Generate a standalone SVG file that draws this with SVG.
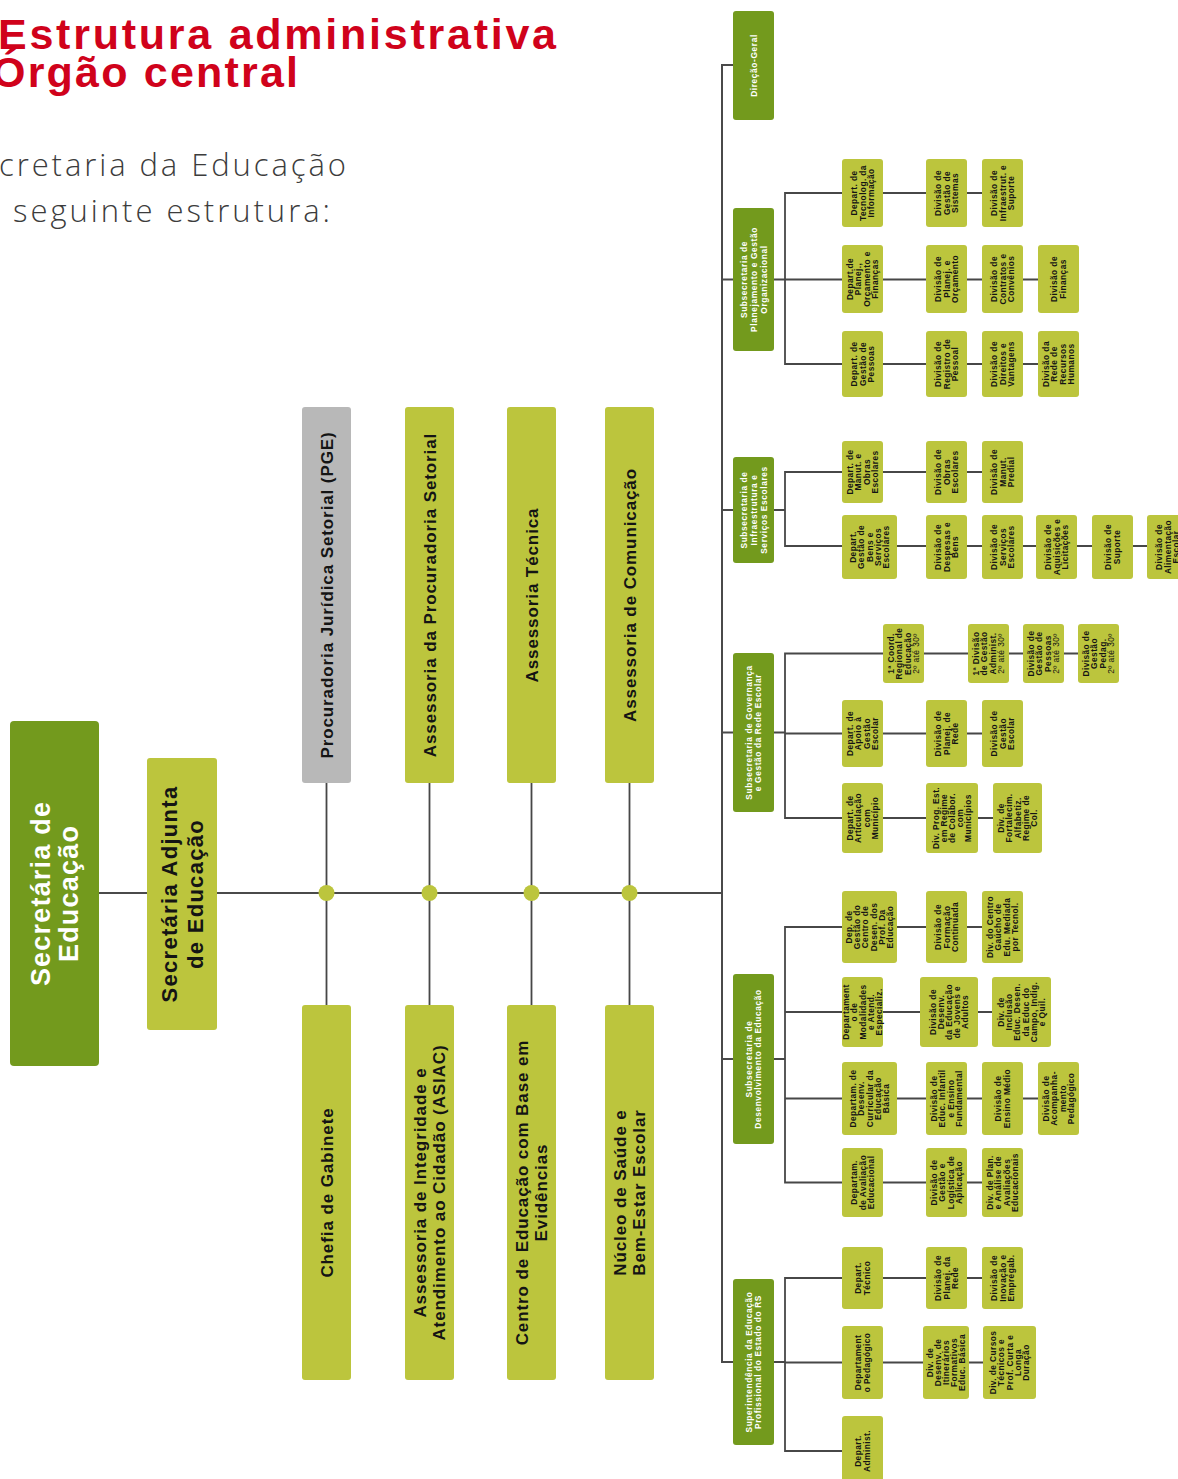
<svg xmlns="http://www.w3.org/2000/svg" width="1178" height="1479" viewBox="0 0 1178 1479">
<style>
.dk{fill:#739a1d}
.lt{fill:#bcc53d}
.gy{fill:#b8b8b8}
.cn{stroke:#474747;stroke-width:1.8;fill:none}
.mn{stroke:#4a4a4a;stroke-width:2;fill:none}
.dot{fill:#bcc53d}
.sm{font-family:"Liberation Sans",Arial,sans-serif;font-weight:700;font-size:8.4px;letter-spacing:0.4px;fill:#141414;text-anchor:middle}
.wt{font-family:"Liberation Sans",Arial,sans-serif;font-weight:700;font-size:8.4px;letter-spacing:0.6px;fill:#ffffff;text-anchor:middle}
.bg{font-family:"Liberation Sans",Arial,sans-serif;font-weight:700;font-size:17px;letter-spacing:0.9px;fill:#141414;text-anchor:middle}
.rg{font-weight:400}
.ttl{font-family:"Liberation Sans",Arial,sans-serif;font-weight:700;font-size:43px;fill:#d0021b}
.sub{font-family:"Open Sans","Liberation Sans",sans-serif;font-weight:300;font-size:31px;fill:#3c3c3c}
</style>
<rect width="1178" height="1479" fill="#ffffff"/>

<g id="title">
<text class="ttl" x="-2" y="49" textLength="558" lengthAdjust="spacing">Estrutura administrativa</text>
<text class="ttl" x="-8" y="87" textLength="306" lengthAdjust="spacing">Órgão central</text>
<text class="sub" x="-1" y="176" textLength="347" lengthAdjust="spacing">cretaria da Educação</text>
<text class="sub" x="13" y="222" textLength="317" lengthAdjust="spacing">seguinte estrutura:</text>
</g>

<g id="connectors">
<path class="mn" d="M99 893H722"/>
<path class="cn" d="M326.5 783V1005M429.5 783V1005M531.5 783V1005M629.5 783V1005"/>
<circle class="dot" cx="326.5" cy="893" r="8"/>
<circle class="dot" cx="429.5" cy="893" r="8"/>
<circle class="dot" cx="531.5" cy="893" r="8"/>
<circle class="dot" cx="629.5" cy="893" r="8"/>
<path class="mn" d="M733 65H722V1362H733M722 279.5H733M722 510H733M722 732.5H733M722 1059H733"/>
<path class="cn" d="M774 279.5H785M842 193H785V364H842M785 279.5H842"/>
<path class="cn" d="M774 510H785M842 472H785V546H842"/>
<path class="cn" d="M774 732.5H785M883 653.5H785V818H842M785 733.5H842"/>
<path class="cn" d="M774 1059H785M842 927H785V1182.5H842M785 1012H842M785 1098.5H842"/>
<path class="cn" d="M774 1362H785M842 1278H785V1451H842M785 1362.5H842"/>
<path class="cn" d="M883 193H926M967 193H982M883 279.5H926M967 279.5H982M1023 279.5H1038M883 364H926M967 364H982M1023 364H1038"/>
<path class="cn" d="M883 472H926M967 472H982M897 546H926M967 546H982M1023 546H1036M1077 546H1092M1133 546H1147"/>
<path class="cn" d="M924 653.5H968M1009 653.5H1023M1064 653.5H1078M883 733.5H926M967 733.5H982M883 818H926M978 818H993"/>
<path class="cn" d="M897 927H926M967 927H982M883 1012H920M978 1012H992M897 1098.5H926M967 1098.5H982M1023 1098.5H1038M883 1182.5H926M967 1182.5H982"/>
<path class="cn" d="M883 1278H926M967 1278H982M883 1362.5H923M969 1362.5H983"/>
</g>

<g id="sec-educacao">
<rect class="dk" x="10" y="721" width="89" height="345" rx="4"/>
<text transform="translate(54.5 893.5) rotate(-90)" style="font-family:'Liberation Sans',Arial,sans-serif;font-weight:700;font-size:27px;letter-spacing:1.2px;fill:#fff;text-anchor:middle"><tspan x="0" y="-4.5">Secretária de</tspan><tspan x="0" y="23.5">Educação</tspan></text>
</g>
<g id="sec-adjunta">
<rect class="lt" x="147" y="758" width="70" height="272" rx="3"/>
<text transform="translate(182 894) rotate(-90)" style="font-family:'Liberation Sans',Arial,sans-serif;font-weight:700;font-size:22px;letter-spacing:1.3px;fill:#141414;text-anchor:middle"><tspan x="0" y="-5">Secretária Adjunta</tspan><tspan x="0" y="21">de Educação</tspan></text>
</g>

<g id="pge"><rect class="gy" x="302" y="407" width="49" height="376" rx="3"/><text class="bg" transform="translate(326.5 595) rotate(-90)"><tspan x="0" y="6">Procuradoria Jurídica Setorial (PGE)</tspan></text></g>
<g id="assess-proc"><rect class="lt" x="405" y="407" width="49" height="376" rx="3"/><text class="bg" transform="translate(429.5 595) rotate(-90)"><tspan x="0" y="6">Assessoria da Procuradoria Setorial</tspan></text></g>
<g id="assess-tec"><rect class="lt" x="507" y="407" width="49" height="376" rx="3"/><text class="bg" transform="translate(531.5 595) rotate(-90)"><tspan x="0" y="6">Assessoria Técnica</tspan></text></g>
<g id="assess-com"><rect class="lt" x="605" y="407" width="49" height="376" rx="3"/><text class="bg" transform="translate(629.5 595) rotate(-90)"><tspan x="0" y="6">Assessoria de Comunicação</tspan></text></g>

<g id="chefia"><rect class="lt" x="302" y="1005" width="49" height="375" rx="3"/><text class="bg" transform="translate(326.5 1192.5) rotate(-90)"><tspan x="0" y="6">Chefia de Gabinete</tspan></text></g>
<g id="asiac"><rect class="lt" x="405" y="1005" width="49" height="375" rx="3"/><text class="bg" transform="translate(429.5 1192.5) rotate(-90)"><tspan x="0" y="-3.5">Assessoria de Integridade e</tspan><tspan x="0" y="15.5">Atendimento ao Cidadão (ASIAC)</tspan></text></g>
<g id="centro-evid"><rect class="lt" x="507" y="1005" width="49" height="375" rx="3"/><text class="bg" transform="translate(531.5 1192.5) rotate(-90)"><tspan x="0" y="-3.5">Centro de Educação com Base em</tspan><tspan x="0" y="15.5">Evidências</tspan></text></g>
<g id="nucleo-saude"><rect class="lt" x="605" y="1005" width="49" height="375" rx="3"/><text class="bg" transform="translate(629.5 1192.5) rotate(-90)"><tspan x="0" y="-3.5">Núcleo de Saúde e</tspan><tspan x="0" y="15.5">Bem-Estar Escolar</tspan></text></g>

<g id="direcao-geral"><rect class="dk" x="733" y="11" width="41" height="109" rx="3"/><text class="wt" transform="translate(753.5 65.5) rotate(-90)"><tspan x="0" y="3.5">Direção-Geral</tspan></text></g>
<g id="sub-planejamento"><rect class="dk" x="733" y="208" width="41" height="143" rx="3"/><text class="wt" transform="translate(753.5 279.5) rotate(-90)"><tspan x="0" y="-6.5">Subsecretaria de</tspan><tspan x="0" y="3.5">Planejamento e Gestão</tspan><tspan x="0" y="13.5">Organizacional</tspan></text></g>
<g id="sub-infra"><rect class="dk" x="733" y="457" width="41" height="106" rx="3"/><text class="wt" transform="translate(753.5 510) rotate(-90)"><tspan x="0" y="-6.5">Subsecretaria de</tspan><tspan x="0" y="3.5">Infraestrutura e</tspan><tspan x="0" y="13.5">Serviços Escolares</tspan></text></g>
<g id="sub-governanca"><rect class="dk" x="733" y="653" width="41" height="159" rx="3"/><text class="wt" transform="translate(753.5 732.5) rotate(-90)"><tspan x="0" y="-1.5">Subsecretaria de Governança</tspan><tspan x="0" y="7.5">e Gestão da Rede Escolar</tspan></text></g>
<g id="sub-desenv"><rect class="dk" x="733" y="974" width="41" height="170" rx="3"/><text class="wt" transform="translate(753.5 1059) rotate(-90)"><tspan x="0" y="-1.5">Subsecretaria de</tspan><tspan x="0" y="7.5">Desenvolvimento da Educação</tspan></text></g>
<g id="superintendencia"><rect class="dk" x="733" y="1279" width="41" height="166" rx="3"/><text class="wt" transform="translate(753.5 1362) rotate(-90)"><tspan x="0" y="-1.5">Superintendência da Educação</tspan><tspan x="0" y="7.5">Profissional do Estado do RS</tspan></text></g>

<g id="pl-d1"><rect class="lt" x="842" y="159" width="41" height="68" rx="3"/><text class="sm" transform="translate(862.5 193) rotate(-90)"><tspan x="0" y="-5.2">Depart. de</tspan><tspan x="0" y="3">Tecnolog. da</tspan><tspan x="0" y="11.2">Informação</tspan></text></g>
<g id="pl-d1a"><rect class="lt" x="926" y="159" width="41" height="68" rx="3"/><text class="sm" transform="translate(946.5 193) rotate(-90)"><tspan x="0" y="-5.2">Divisão de</tspan><tspan x="0" y="3">Gestão de</tspan><tspan x="0" y="11.2">Sistemas</tspan></text></g>
<g id="pl-d1b"><rect class="lt" x="982" y="159" width="41" height="68" rx="3"/><text class="sm" transform="translate(1002.5 193) rotate(-90)"><tspan x="0" y="-5.2">Divisão de</tspan><tspan x="0" y="3">Infraestrut. e</tspan><tspan x="0" y="11.2">Suporte</tspan></text></g>
<g id="pl-d2"><rect class="lt" x="842" y="245" width="41" height="68" rx="3"/><text class="sm" transform="translate(862.5 279) rotate(-90)"><tspan x="0" y="-9.3">Depart.de</tspan><tspan x="0" y="-1.1">Planej.,</tspan><tspan x="0" y="7.1">Orçamento e</tspan><tspan x="0" y="15.3">Finanças</tspan></text></g>
<g id="pl-d2a"><rect class="lt" x="926" y="245" width="41" height="68" rx="3"/><text class="sm" transform="translate(946.5 279) rotate(-90)"><tspan x="0" y="-5.2">Divisão de</tspan><tspan x="0" y="3">Planej. e</tspan><tspan x="0" y="11.2">Orçamento</tspan></text></g>
<g id="pl-d2b"><rect class="lt" x="982" y="245" width="41" height="68" rx="3"/><text class="sm" transform="translate(1002.5 279) rotate(-90)"><tspan x="0" y="-5.2">Divisão de</tspan><tspan x="0" y="3">Contratos e</tspan><tspan x="0" y="11.2">Convênios</tspan></text></g>
<g id="pl-d2c"><rect class="lt" x="1038" y="245" width="41" height="68" rx="3"/><text class="sm" transform="translate(1058.5 279) rotate(-90)"><tspan x="0" y="-1.1">Divisão de</tspan><tspan x="0" y="7.1">Finanças</tspan></text></g>
<g id="pl-d3"><rect class="lt" x="842" y="331" width="41" height="66" rx="3"/><text class="sm" transform="translate(862.5 364) rotate(-90)"><tspan x="0" y="-5.2">Depart. de</tspan><tspan x="0" y="3">Gestão de</tspan><tspan x="0" y="11.2">Pessoas</tspan></text></g>
<g id="pl-d3a"><rect class="lt" x="926" y="331" width="41" height="66" rx="3"/><text class="sm" transform="translate(946.5 364) rotate(-90)"><tspan x="0" y="-5.2">Divisão de</tspan><tspan x="0" y="3">Registro de</tspan><tspan x="0" y="11.2">Pessoal</tspan></text></g>
<g id="pl-d3b"><rect class="lt" x="982" y="331" width="41" height="66" rx="3"/><text class="sm" transform="translate(1002.5 364) rotate(-90)"><tspan x="0" y="-5.2">Divisão de</tspan><tspan x="0" y="3">Direitos e</tspan><tspan x="0" y="11.2">Vantagens</tspan></text></g>
<g id="pl-d3c"><rect class="lt" x="1038" y="331" width="41" height="66" rx="3"/><text class="sm" transform="translate(1058.5 364) rotate(-90)"><tspan x="0" y="-9.3">Divisão da</tspan><tspan x="0" y="-1.1">Rede de</tspan><tspan x="0" y="7.1">Recursos</tspan><tspan x="0" y="15.3">Humanos</tspan></text></g>

<g id="in-d1"><rect class="lt" x="842" y="441" width="41" height="62" rx="3"/><text class="sm" transform="translate(862.5 472) rotate(-90)"><tspan x="0" y="-9.3">Depart. de</tspan><tspan x="0" y="-1.1">Manut. e</tspan><tspan x="0" y="7.1">Obras</tspan><tspan x="0" y="15.3">Escolares</tspan></text></g>
<g id="in-d1a"><rect class="lt" x="926" y="441" width="41" height="62" rx="3"/><text class="sm" transform="translate(946.5 472) rotate(-90)"><tspan x="0" y="-5.2">Divisão de</tspan><tspan x="0" y="3">Obras</tspan><tspan x="0" y="11.2">Escolares</tspan></text></g>
<g id="in-d1b"><rect class="lt" x="982" y="441" width="41" height="62" rx="3"/><text class="sm" transform="translate(1002.5 472) rotate(-90)"><tspan x="0" y="-5.2">Divisão de</tspan><tspan x="0" y="3">Manut.</tspan><tspan x="0" y="11.2">Predial</tspan></text></g>
<g id="in-d2"><rect class="lt" x="842" y="515" width="55" height="64" rx="3"/><text class="sm" transform="translate(869.5 547) rotate(-90)"><tspan x="0" y="-13.4">Depart.</tspan><tspan x="0" y="-5.2">Gestão de</tspan><tspan x="0" y="3">Bens e</tspan><tspan x="0" y="11.2">Serviços</tspan><tspan x="0" y="19.4">Escolares</tspan></text></g>
<g id="in-d2a"><rect class="lt" x="926" y="515" width="41" height="64" rx="3"/><text class="sm" transform="translate(946.5 547) rotate(-90)"><tspan x="0" y="-5.2">Divisão de</tspan><tspan x="0" y="3">Despesas e</tspan><tspan x="0" y="11.2">Bens</tspan></text></g>
<g id="in-d2b"><rect class="lt" x="982" y="515" width="41" height="64" rx="3"/><text class="sm" transform="translate(1002.5 547) rotate(-90)"><tspan x="0" y="-5.2">Divisão de</tspan><tspan x="0" y="3">Serviços</tspan><tspan x="0" y="11.2">Escolares</tspan></text></g>
<g id="in-d2c"><rect class="lt" x="1036" y="515" width="41" height="64" rx="3"/><text class="sm" transform="translate(1056.5 547) rotate(-90)"><tspan x="0" y="-5.2">Divisão de</tspan><tspan x="0" y="3">Aquisições e</tspan><tspan x="0" y="11.2">Licitações</tspan></text></g>
<g id="in-d2d"><rect class="lt" x="1092" y="515" width="41" height="64" rx="3"/><text class="sm" transform="translate(1112.5 547) rotate(-90)"><tspan x="0" y="-1.1">Divisão de</tspan><tspan x="0" y="7.1">Suporte</tspan></text></g>
<g id="in-d2e"><rect class="lt" x="1147" y="515" width="41" height="64" rx="3"/><text class="sm" transform="translate(1167.5 547) rotate(-90)"><tspan x="0" y="-5.2">Divisão de</tspan><tspan x="0" y="3">Alimentação</tspan><tspan x="0" y="11.2">Escolar</tspan></text></g>

<g id="gv-c1"><rect class="lt" x="883" y="624" width="41" height="59" rx="3"/><text class="sm" transform="translate(903.5 653.5) rotate(-90)"><tspan x="0" y="-9.3">1ª Coord.</tspan><tspan x="0" y="-1.1">Regional de</tspan><tspan x="0" y="7.1">Educação</tspan><tspan x="0" y="15.3" class="rg">2º até 30º</tspan></text></g>
<g id="gv-c1a"><rect class="lt" x="968" y="624" width="41" height="59" rx="3"/><text class="sm" transform="translate(988.5 653.5) rotate(-90)"><tspan x="0" y="-9.3">1ª Divisão</tspan><tspan x="0" y="-1.1">de Gestão</tspan><tspan x="0" y="7.1">Administ.</tspan><tspan x="0" y="15.3" class="rg">2º até 30º</tspan></text></g>
<g id="gv-c1b"><rect class="lt" x="1023" y="624" width="41" height="59" rx="3"/><text class="sm" transform="translate(1043.5 653.5) rotate(-90)"><tspan x="0" y="-9.3">Divisão de</tspan><tspan x="0" y="-1.1">Gestão de</tspan><tspan x="0" y="7.1">Pessoas</tspan><tspan x="0" y="15.3" class="rg">2º até 30º</tspan></text></g>
<g id="gv-c1c"><rect class="lt" x="1078" y="624" width="41" height="59" rx="3"/><text class="sm" transform="translate(1098.5 653.5) rotate(-90)"><tspan x="0" y="-9.3">Divisão de</tspan><tspan x="0" y="-1.1">Gestão</tspan><tspan x="0" y="7.1">Pedag.</tspan><tspan x="0" y="15.3" class="rg">2º até 30º</tspan></text></g>
<g id="gv-d2"><rect class="lt" x="842" y="700" width="41" height="67" rx="3"/><text class="sm" transform="translate(862.5 733.5) rotate(-90)"><tspan x="0" y="-9.3">Depart. de</tspan><tspan x="0" y="-1.1">Apoio à</tspan><tspan x="0" y="7.1">Gestão</tspan><tspan x="0" y="15.3">Escolar</tspan></text></g>
<g id="gv-d2a"><rect class="lt" x="926" y="700" width="41" height="67" rx="3"/><text class="sm" transform="translate(946.5 733.5) rotate(-90)"><tspan x="0" y="-5.2">Divisão de</tspan><tspan x="0" y="3">Planej. de</tspan><tspan x="0" y="11.2">Rede</tspan></text></g>
<g id="gv-d2b"><rect class="lt" x="982" y="700" width="41" height="67" rx="3"/><text class="sm" transform="translate(1002.5 733.5) rotate(-90)"><tspan x="0" y="-5.2">Divisão de</tspan><tspan x="0" y="3">Gestão</tspan><tspan x="0" y="11.2">Escolar</tspan></text></g>
<g id="gv-d3"><rect class="lt" x="842" y="783" width="41" height="70" rx="3"/><text class="sm" transform="translate(862.5 818) rotate(-90)"><tspan x="0" y="-9.3">Depart. de</tspan><tspan x="0" y="-1.1">Articulação</tspan><tspan x="0" y="7.1">com</tspan><tspan x="0" y="15.3">Município</tspan></text></g>
<g id="gv-d3a"><rect class="lt" x="926" y="783" width="52" height="70" rx="3"/><text class="sm" transform="translate(952 818) rotate(-90)"><tspan x="0" y="-13.4">Div. Prog. Est.</tspan><tspan x="0" y="-5.2">em Regime</tspan><tspan x="0" y="3">de Colabor.</tspan><tspan x="0" y="11.2">com</tspan><tspan x="0" y="19.4">Municípios</tspan></text></g>
<g id="gv-d3b"><rect class="lt" x="993" y="783" width="49" height="70" rx="3"/><text class="sm" transform="translate(1017.5 818) rotate(-90)"><tspan x="0" y="-13.4">Div. de</tspan><tspan x="0" y="-5.2">Fortalecim.</tspan><tspan x="0" y="3">Alfabetiz.</tspan><tspan x="0" y="11.2">Regime de</tspan><tspan x="0" y="19.4">Col.</tspan></text></g>

<g id="de-d1"><rect class="lt" x="842" y="891" width="55" height="72" rx="3"/><text class="sm" transform="translate(869.5 927) rotate(-90)"><tspan x="0" y="-17.5">Dep. de</tspan><tspan x="0" y="-9.3">Gestão do</tspan><tspan x="0" y="-1.1">Centro de</tspan><tspan x="0" y="7.1">Desen. dos</tspan><tspan x="0" y="15.3">Prof. Da</tspan><tspan x="0" y="23.5">Educação</tspan></text></g>
<g id="de-d1a"><rect class="lt" x="926" y="891" width="41" height="72" rx="3"/><text class="sm" transform="translate(946.5 927) rotate(-90)"><tspan x="0" y="-5.2">Divisão de</tspan><tspan x="0" y="3">Formação</tspan><tspan x="0" y="11.2">Continuada</tspan></text></g>
<g id="de-d1b"><rect class="lt" x="982" y="891" width="41" height="72" rx="3"/><text class="sm" transform="translate(1002.5 927) rotate(-90)"><tspan x="0" y="-9.3">Div. do Centro</tspan><tspan x="0" y="-1.1">Gaúcho de</tspan><tspan x="0" y="7.1">Edu. Mediada</tspan><tspan x="0" y="15.3">por Tecnol.</tspan></text></g>
<g id="de-d2"><rect class="lt" x="842" y="977" width="41" height="70" rx="3"/><text class="sm" transform="translate(862.5 1012) rotate(-90)"><tspan x="0" y="-13.4">Departament</tspan><tspan x="0" y="-5.2">o de</tspan><tspan x="0" y="3">Modalidades</tspan><tspan x="0" y="11.2">e Atend.</tspan><tspan x="0" y="19.4">Especializ.</tspan></text></g>
<g id="de-d2a"><rect class="lt" x="920" y="977" width="58" height="70" rx="3"/><text class="sm" transform="translate(949 1012) rotate(-90)"><tspan x="0" y="-13.4">Divisão de</tspan><tspan x="0" y="-5.2">Desenv.</tspan><tspan x="0" y="3">da Educação</tspan><tspan x="0" y="11.2">de Jovens e</tspan><tspan x="0" y="19.4">Adultos</tspan></text></g>
<g id="de-d2b"><rect class="lt" x="992" y="977" width="59" height="70" rx="3"/><text class="sm" transform="translate(1021.5 1012) rotate(-90)"><tspan x="0" y="-17.5">Div. de</tspan><tspan x="0" y="-9.3">Inclusão</tspan><tspan x="0" y="-1.1">Educ. Desen.</tspan><tspan x="0" y="7.1">da Educ do</tspan><tspan x="0" y="15.3">Campo, Indig.</tspan><tspan x="0" y="23.5">e Quil.</tspan></text></g>
<g id="de-d3"><rect class="lt" x="842" y="1062" width="55" height="73" rx="3"/><text class="sm" transform="translate(869.5 1098.5) rotate(-90)"><tspan x="0" y="-13.4">Departam. de</tspan><tspan x="0" y="-5.2">Desenv.</tspan><tspan x="0" y="3">Curricular da</tspan><tspan x="0" y="11.2">Educação</tspan><tspan x="0" y="19.4">Básica</tspan></text></g>
<g id="de-d3a"><rect class="lt" x="926" y="1062" width="41" height="73" rx="3"/><text class="sm" transform="translate(946.5 1098.5) rotate(-90)"><tspan x="0" y="-9.3">Divisão de</tspan><tspan x="0" y="-1.1">Educ. Infantil</tspan><tspan x="0" y="7.1">e Ensino</tspan><tspan x="0" y="15.3">Fundamental</tspan></text></g>
<g id="de-d3b"><rect class="lt" x="982" y="1062" width="41" height="73" rx="3"/><text class="sm" transform="translate(1002.5 1098.5) rotate(-90)"><tspan x="0" y="-1.1">Divisão de</tspan><tspan x="0" y="7.1">Ensino Médio</tspan></text></g>
<g id="de-d3c"><rect class="lt" x="1038" y="1062" width="41" height="73" rx="3"/><text class="sm" transform="translate(1058.5 1098.5) rotate(-90)"><tspan x="0" y="-9.3">Divisão de</tspan><tspan x="0" y="-1.1">Acompanha-</tspan><tspan x="0" y="7.1">mento</tspan><tspan x="0" y="15.3">Pedagógico</tspan></text></g>
<g id="de-d4"><rect class="lt" x="842" y="1148" width="41" height="69" rx="3"/><text class="sm" transform="translate(862.5 1182.5) rotate(-90)"><tspan x="0" y="-5.2">Departam.</tspan><tspan x="0" y="3">de Avaliação</tspan><tspan x="0" y="11.2">Educacional</tspan></text></g>
<g id="de-d4a"><rect class="lt" x="926" y="1148" width="41" height="69" rx="3"/><text class="sm" transform="translate(946.5 1182.5) rotate(-90)"><tspan x="0" y="-9.3">Divisão de</tspan><tspan x="0" y="-1.1">Gestão e</tspan><tspan x="0" y="7.1">Logística de</tspan><tspan x="0" y="15.3">Aplicação</tspan></text></g>
<g id="de-d4b"><rect class="lt" x="982" y="1148" width="41" height="69" rx="3"/><text class="sm" transform="translate(1002.5 1182.5) rotate(-90)"><tspan x="0" y="-9.3">Div. de Plan.</tspan><tspan x="0" y="-1.1">e Análise de</tspan><tspan x="0" y="7.1">Avaliações</tspan><tspan x="0" y="15.3">Educacionais</tspan></text></g>

<g id="su-d1"><rect class="lt" x="842" y="1247" width="41" height="62" rx="3"/><text class="sm" transform="translate(862.5 1278) rotate(-90)"><tspan x="0" y="-1.1">Depart.</tspan><tspan x="0" y="7.1">Técnico</tspan></text></g>
<g id="su-d1a"><rect class="lt" x="926" y="1247" width="41" height="62" rx="3"/><text class="sm" transform="translate(946.5 1278) rotate(-90)"><tspan x="0" y="-5.2">Divisão de</tspan><tspan x="0" y="3">Planej. da</tspan><tspan x="0" y="11.2">Rede</tspan></text></g>
<g id="su-d1b"><rect class="lt" x="982" y="1247" width="41" height="62" rx="3"/><text class="sm" transform="translate(1002.5 1278) rotate(-90)"><tspan x="0" y="-5.2">Divisão de</tspan><tspan x="0" y="3">Inovação e</tspan><tspan x="0" y="11.2">Empregab.</tspan></text></g>
<g id="su-d2"><rect class="lt" x="842" y="1326" width="41" height="73" rx="3"/><text class="sm" transform="translate(862.5 1362.5) rotate(-90)"><tspan x="0" y="-1.1">Departament</tspan><tspan x="0" y="7.1">o Pedagógico</tspan></text></g>
<g id="su-d2a"><rect class="lt" x="923" y="1326" width="46" height="73" rx="3"/><text class="sm" transform="translate(946 1362.5) rotate(-90)"><tspan x="0" y="-13.4">Div. de</tspan><tspan x="0" y="-5.2">Desenv. de</tspan><tspan x="0" y="3">Itinerários</tspan><tspan x="0" y="11.2">Formativos</tspan><tspan x="0" y="19.4">Educ. Básica</tspan></text></g>
<g id="su-d2b"><rect class="lt" x="983" y="1326" width="53" height="73" rx="3"/><text class="sm" transform="translate(1009.5 1362.5) rotate(-90)"><tspan x="0" y="-13.4">Div. de Cursos</tspan><tspan x="0" y="-5.2">Técnicos e</tspan><tspan x="0" y="3">Prof. Curta e</tspan><tspan x="0" y="11.2">Longa</tspan><tspan x="0" y="19.4">Duração</tspan></text></g>
<g id="su-d3"><rect class="lt" x="842" y="1416" width="41" height="70" rx="3"/><text class="sm" transform="translate(862.5 1451) rotate(-90)"><tspan x="0" y="-1.1">Depart.</tspan><tspan x="0" y="7.1">Administ.</tspan></text></g>
</svg>
